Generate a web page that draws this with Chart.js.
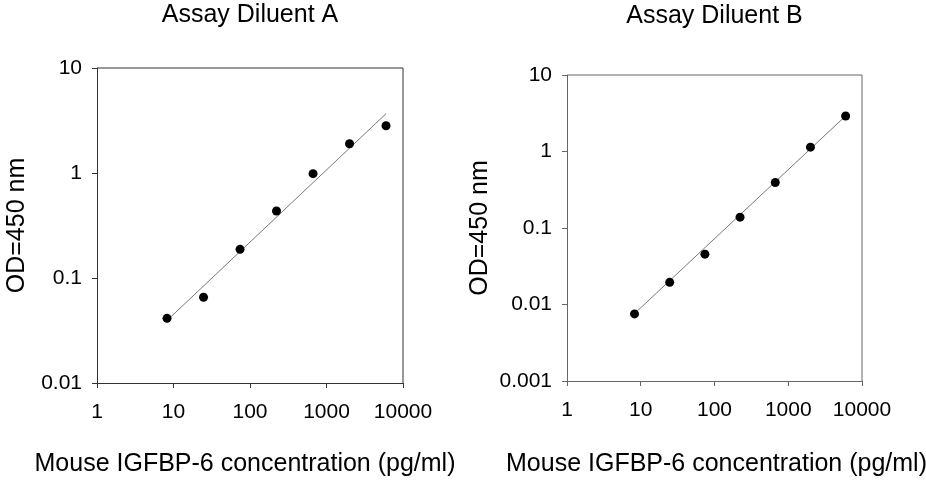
<!DOCTYPE html>
<html>
<head>
<meta charset="utf-8">
<script src="https://cdn.jsdelivr.net/npm/chart.js@4.4.1/dist/chart.umd.min.js"></script>
<style>
  body { margin: 0; background: #fff; }
  #wrap { position: relative; width: 926px; height: 480px; }
  canvas { position: absolute; top: 0; }
</style>
</head>
<body>
<div id="wrap">
  <canvas id="chartA" width="463" height="480" style="left:0"></canvas>
  <canvas id="chartB" width="463" height="480" style="left:463px"></canvas>
</div>
<script>
// standard concentrations (pg/ml), 3-fold dilutions
const conc = [8.23, 24.7, 74.1, 222, 667, 2000, 6000];
// OD readings for each diluent
const odA = [0.0413, 0.0655, 0.1875, 0.435, 0.986, 1.90, 2.82];
const odB = [0.00753, 0.0195, 0.0455, 0.1386, 0.394, 1.14, 2.91];
// end points of the fitted lines
const fitX = [8.23, 6000];
const fitA = [0.0394, 3.67];
const fitB = [0.0076, 2.92];
// tick labels
const xTicks = [1, 10, 100, 1000, 10000];
const yTicksA = [0.01, 0.1, 1, 10];
const yTicksB = [0.001, 0.01, 0.1, 1, 10];
const xTitle = 'Mouse IGFBP-6 concentration (pg/ml)';

const FONT = "'Liberation Sans', Arial, sans-serif";

// top/right edge of the plot box, plus the x axis title
// (the built-in axis title gets squeezed to the plot width)
const framePlugin = {
  id: 'frame',
  afterDraw(chart, args, opts) {
    const { ctx, chartArea: a } = chart;
    ctx.save();
    ctx.strokeStyle = opts.color || '#333';
    ctx.lineWidth = 1;
    ctx.beginPath();
    ctx.moveTo(a.left, a.top);
    ctx.lineTo(a.right, a.top);
    ctx.lineTo(a.right, a.bottom);
    ctx.stroke();

    ctx.fillStyle = '#000';
    ctx.font = '25px ' + FONT;
    ctx.textAlign = 'center';
    ctx.textBaseline = 'alphabetic';
    ctx.fillText(opts.xTitle, (a.left + a.right) / 2 + opts.shift, opts.baseline);
    ctx.restore();
  }
};

function toPoints(xs, ys) {
  return xs.map((x, i) => ({ x: x, y: ys[i] }));
}

function makeChart(id, title, ys, fitYs, yTicks, lay) {
  const ctx = document.getElementById(id).getContext('2d');
  return new Chart(ctx, {
    type: 'scatter',
    data: {
      datasets: [{
        data: toPoints(conc, ys),
        backgroundColor: '#000',
        borderWidth: 0,
        pointRadius: 4.5
      }, {
        data: toPoints(fitX, fitYs),
        showLine: true,
        borderColor: '#777',
        borderWidth: 1,
        pointRadius: 0
      }]
    },
    options: {
      responsive: false,
      animation: false,
      layout: { padding: { left: 0, right: lay.right, top: 0, bottom: 0 } },
      plugins: {
        legend: { display: false },
        tooltip: { enabled: false },
        title: {
          display: true,
          text: title,
          fullSize: false,
          color: '#000',
          font: { family: FONT, size: 25, weight: 'normal' },
          padding: { top: lay.titleTop, bottom: lay.titleBottom }
        },
        frame: { color: lay.frame, xTitle: xTitle, shift: lay.shift, baseline: 471 }
      },
      scales: {
        x: {
          type: 'logarithmic',
          min: 1,
          max: 10000,
          afterBuildTicks: s => { s.ticks = xTicks.map(v => ({ value: v })); },
          afterFit: s => { s.height = lay.xh; },
          ticks: {
            callback: v => String(v),
            color: '#000',
            font: { family: FONT, size: 21 },
            padding: 12,
            maxRotation: 0,
            autoSkip: false
          },
          grid: { drawOnChartArea: false, tickLength: 5, color: lay.frame },
          border: { color: lay.frame }
        },
        y: {
          type: 'logarithmic',
          min: yTicks[0],
          max: yTicks[yTicks.length - 1],
          afterBuildTicks: s => { s.ticks = yTicks.map(v => ({ value: v })); },
          afterFit: s => { s.width = lay.yw; },
          ticks: {
            callback: v => String(v),
            color: '#000',
            font: { family: FONT, size: 21 },
            padding: 10,
            autoSkip: false
          },
          grid: { drawOnChartArea: false, tickLength: 5, color: lay.frame },
          border: { color: lay.frame },
          title: {
            display: true,
            text: 'OD=450 nm',
            color: '#000',
            font: { family: FONT, size: 25 },
            padding: { top: 2, bottom: 0 }
          }
        }
      }
    },
    plugins: [framePlugin]
  });
}

makeChart('chartA', 'Assay Diluent A', odA, fitA, yTicksA,
  { right: 60, titleTop: 0, titleBottom: 38, xh: 97, yw: 97, frame: '#333', shift: -5 });
makeChart('chartB', 'Assay Diluent B', odB, fitB, yTicksB,
  { right: 64, titleTop: 1, titleBottom: 44, xh: 99, yw: 104, frame: '#666', shift: 2 });
</script>
</body>
</html>
